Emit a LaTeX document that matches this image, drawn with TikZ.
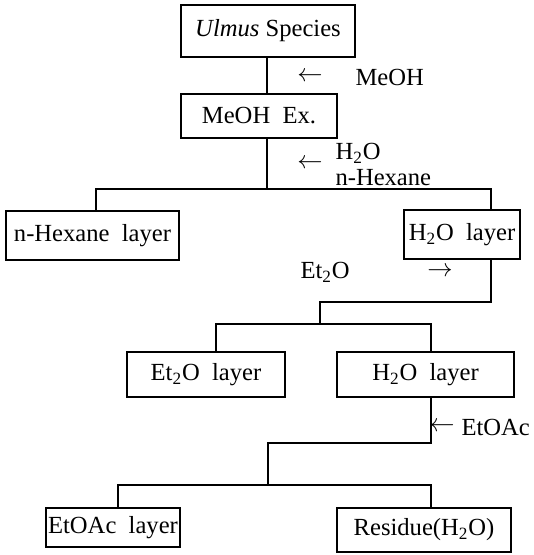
\documentclass[tikz,border=0pt]{standalone}
\usepackage{fontspec}
\setmainfont{Liberation Serif}
\usepackage{tikz}

\begin{document}
\begin{tikzpicture}[x=0.02cm, y=-0.02cm, line width=0.6pt,
  every node/.style={font=\fontsize{14}{16}\selectfont},
  layer/.style={draw=black, rectangle, inner sep=0pt},
  lbl/.style={inner sep=0pt, anchor=west}]
\useasboundingbox (0,0) rectangle (534,555);

% Ausgangsmaterial
\node[layer, minimum width=3.48cm, minimum height=1.04cm] (ulmus) at (268,31) {\textit{Ulmus} Species};
\node[layer, minimum width=3.12cm, minimum height=0.88cm] (meoh) at (259,116) {MeOH\ \ Ex.};

% erste Verteilung
\node[layer, minimum width=3.46cm, minimum height=0.98cm] (hex) at (92.5,235.5) {n-Hexane\ \ layer};
\node[layer, minimum width=2.32cm, minimum height=0.98cm] (wat1) at (462,234.5) {H\textsubscript{2}O\ \ layer};

% zweite Verteilung
\node[layer, minimum width=3.16cm, minimum height=0.90cm] (ether) at (206,374.5) {Et\textsubscript{2}O\ \ layer};
\node[layer, minimum width=3.54cm, minimum height=0.90cm] (wat2) at (425.5,374.5) {H\textsubscript{2}O\ \ layer};

% dritte Verteilung
\node[layer, minimum width=2.68cm, minimum height=0.78cm] (acet) at (113,527.5) {EtOAc\ \ layer};
\node[layer, minimum width=3.48cm, minimum height=0.88cm] (res) at (424,530) {Residue(H\textsubscript{2}O)};

% Loesungsmittel
\node (a1) at (310,77) {$\leftarrow$};
\node[lbl] (s1) at (355,77) {MeOH};
\node (a2) at (310,164) {$\leftarrow$};
\node[lbl] (s2) at (335,153) {H\textsubscript{2}O};
\node[lbl] (s3) at (335,178) {n-Hexane};
\node[lbl] (s4) at (300,272) {Et\textsubscript{2}O};
\node (a3) at (440,272) {$\rightarrow$};
\node (a4) at (442,427) {$\leftarrow$};
\node[lbl] (s5) at (461,427) {EtOAc};

% Verzweigungen
\coordinate (j1) at (267,189);
\coordinate (h1) at (96,189);
\coordinate (h2) at (491,189);
\coordinate (k2) at (491,302);
\coordinate (k1) at (320,302);
\coordinate (k0) at (320,324);
\coordinate (e1) at (216,324);
\coordinate (e2) at (431,324);
\coordinate (m2) at (431,443);
\coordinate (m1) at (268,443);
\coordinate (m0) at (268,485);
\coordinate (b1) at (118,485);
\coordinate (b2) at (431,485);

\draw (ulmus.south -| j1) -- (meoh.north -| j1);
\draw (meoh.south -| j1) -- (j1);
\draw (hex.north -| h1) -- (h1) -- (h2) -- (wat1.north -| h2);
\draw (wat1.south -| k2) -- (k2) -- (k1) -- (k0);
\draw (ether.north -| e1) -- (e1) -- (e2) -- (wat2.north -| e2);
\draw (wat2.south -| m2) -- (m2) -- (m1) -- (m0);
\draw (acet.north -| b1) -- (b1) -- (b2) -- (res.north -| b2);

\end{tikzpicture}
\end{document}
